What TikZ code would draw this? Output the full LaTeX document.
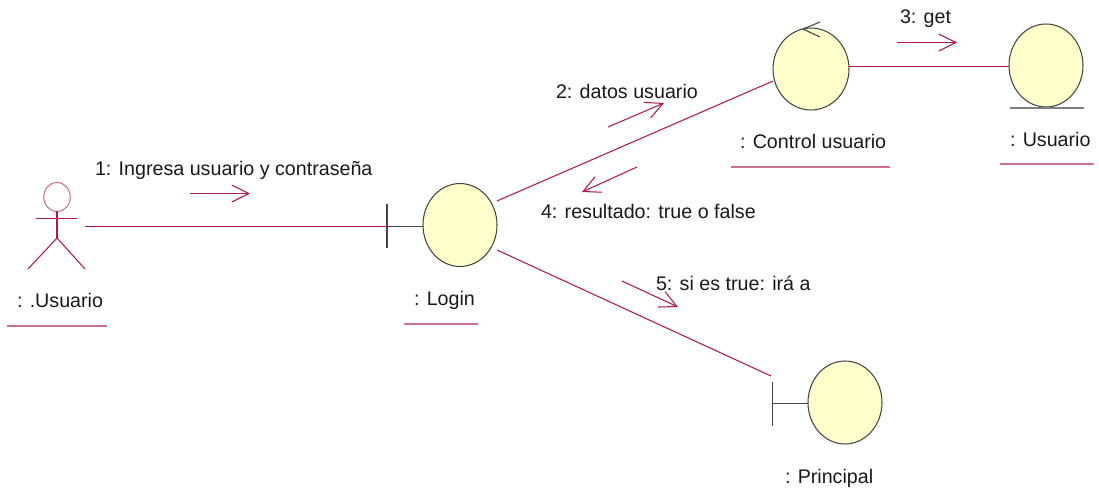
\documentclass[tikz,border=0pt]{standalone}
\usepackage{fontspec}
\setmainfont{Liberation Sans}
\usetikzlibrary{shapes.geometric}
\usetikzlibrary{arrows.meta}
\definecolor{linkred}{HTML}{B0174F}
\definecolor{rulered}{HTML}{CC7090}
\definecolor{bodyyellow}{HTML}{FFFFCC}
\definecolor{bodyedge}{HTML}{444444}

\begin{document}
\begin{tikzpicture}[x=0.02cm, y=-0.02cm,
    every node/.style={outer sep=0pt, inner sep=0pt},
    body/.style={ellipse, draw=bodyedge, fill=bodyyellow, line width=0.6pt, minimum width=1.48cm, minimum height=1.66cm},
    label/.style={anchor=base west, font=\fontsize{11.2pt}{13pt}\selectfont, text=black!90},
    link/.style={draw=linkred, line width=0.6pt},
    stub/.style={draw=bodyedge, line width=0.6pt},
    message/.style={draw=linkred, line width=0.6pt, -{Straight Barb[length=0.34cm, width=0.34cm]}},
    rule/.style={draw=rulered, line width=0.7pt}]
    \useasboundingbox (0,0) rectangle (1099,497);

    % Actor
    \node[ellipse, draw=rulered, line width=0.6pt, minimum width=0.53cm, minimum height=0.58cm] (head) at (57,197) {};
    \coordinate (hip) at (57,238);
    \coordinate (armleft) at (36,218.5);
    \coordinate (armright) at (77,218.5);
    \coordinate (footleft) at (28,269);
    \coordinate (footright) at (85,269);
    \draw[link] (head.south) -- (hip);
    \draw[link] (armleft) -- (armright);
    \draw[link] (footleft) -- (hip) -- (footright);
    \node[label] (actortext) at (17,307) {: .Usuario};

    % Objects
    \node[body] (login) at (460,225) {};
    \node[body, minimum width=1.52cm, minimum height=1.64cm] (control) at (811,69) {};
    \node[body, minimum height=1.66cm] (entity) at (1046,65.5) {};
    \node[body] (principal) at (845,402.5) {};
    \node[label] (logintext) at (414,305) {: Login};
    \node[label] (controltext) at (740,148) {: Control usuario};
    \node[label] (entitytext) at (1010,146) {: Usuario};
    \node[label] (principaltext) at (785,483) {: Principal};

    % Object marks
    \coordinate (logintick) at (387,226.5);
    \coordinate (principaltick) at (772.5,403.5);
    \draw[stub] (387,204) -- (387,248);
    \draw[stub] (logintick) -- (login.west |- logintick);
    \draw[stub] (772.5,382) -- (772.5,426);
    \draw[stub] (principaltick) -- (principal.west |- principaltick);
    \draw[stub] (820,22) -- (803,29) -- (820,37);
    \draw[draw=gray, line width=0.8pt] (1010,108) -- (1084,108);

    % Underlines
    \draw[rule] (7,326) -- (107,326);
    \draw[rule] (404,324) -- (478,324);
    \draw[rule] (731,167) -- (890,167);
    \draw[rule] (1000,164) -- (1094,164);

    % Links
    \coordinate (actorhand) at (85,226.5);
    \coordinate (loginup) at (497,201);
    \coordinate (controlin) at (773,81);
    \coordinate (logindown) at (497,250);
    \coordinate (principalin) at (771,376);
    \coordinate (controlout) at (849,66.5);
    \draw[link] (actorhand) -- (logintick);
    \draw[link] (loginup) -- (controlin);
    \draw[link] (logindown) -- (principalin);
    \draw[link] (controlout) -- (entity.west |- controlout);

    % Messages
    \coordinate (msga) at (190,193.5);
    \coordinate (msgb) at (250,193.5);
    \coordinate (msgc) at (608,127);
    \coordinate (msgd) at (664,103);
    \coordinate (msge) at (897,42.5);
    \coordinate (msgf) at (957,42.5);
    \coordinate (msgg) at (637,167);
    \coordinate (msgh) at (582,192);
    \coordinate (msgi) at (622,281);
    \coordinate (msgj) at (678,307);
    \draw[message] (msga) -- (msgb);
    \draw[message] (msgc) -- (msgd);
    \draw[message] (msge) -- (msgf);
    \draw[message] (msgg) -- (msgh);
    \draw[message] (msgi) -- (msgj);
    \node[label] (msgtexta) at (95,175) {1: Ingresa usuario y contraseña};
    \node[label] (msgtextb) at (556,98) {2: datos usuario};
    \node[label] (msgtextc) at (900,24) {3: get};
    \node[label] (msgtextd) at (541,218) {4: resultado: true o false};
    \node[label] (msgtexte) at (656,290) {5: si es true: irá a};
\end{tikzpicture}
\end{document}
